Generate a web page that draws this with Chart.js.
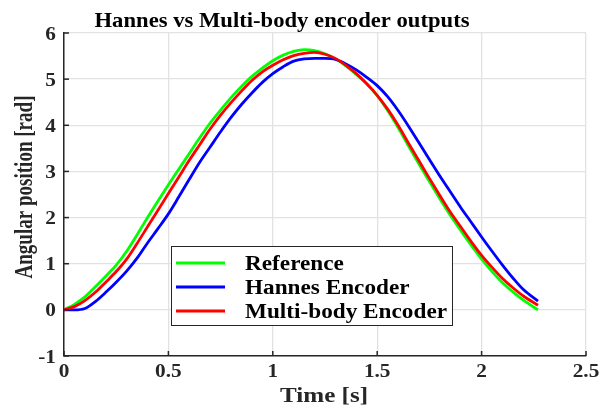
<!DOCTYPE html>
<html>
<head>
<meta charset="utf-8">
<script src="https://cdn.jsdelivr.net/npm/chart.js@4.4.1/dist/chart.umd.min.js"></script>
<style>
  html, body { margin: 0; padding: 0; background: #fff; }
  #wrap { width: 600px; height: 406px; }
</style>
</head>
<body>
<div id="wrap"><canvas id="chart" width="600" height="406"></canvas></div>
<script>
// values (time in s, angle in rad)
const refT = [0, 0.05, 0.1, 0.15, 0.2, 0.25, 0.3, 0.35, 0.4, 0.45, 0.5, 0.55, 0.6, 0.65, 0.7, 0.75, 0.8, 0.85, 0.9, 0.95, 1.0, 1.05, 1.1, 1.15, 1.2, 1.25, 1.3, 1.35, 1.4, 1.45, 1.5, 1.55, 1.6, 1.65, 1.7, 1.75, 1.8, 1.85, 1.9, 1.95, 2.0, 2.05, 2.1, 2.15, 2.2, 2.27];
const refY = [0, 0.12, 0.28, 0.5, 0.73, 0.97, 1.27, 1.63, 2.0, 2.36, 2.71, 3.05, 3.39, 3.73, 4.05, 4.33, 4.6, 4.84, 5.06, 5.24, 5.4, 5.52, 5.6, 5.64, 5.62, 5.55, 5.44, 5.29, 5.1, 4.9, 4.64, 4.32, 3.95, 3.55, 3.16, 2.78, 2.41, 2.05, 1.72, 1.4, 1.1, 0.83, 0.59, 0.39, 0.21, 0.0];

const hannesT = [0, 0.05, 0.1, 0.15, 0.2, 0.25, 0.3, 0.35, 0.4, 0.45, 0.5, 0.55, 0.6, 0.65, 0.7, 0.75, 0.8, 0.85, 0.9, 0.95, 1.0, 1.05, 1.1, 1.15, 1.2, 1.25, 1.3, 1.35, 1.4, 1.45, 1.5, 1.55, 1.6, 1.65, 1.7, 1.75, 1.8, 1.85, 1.9, 1.95, 2.0, 2.05, 2.1, 2.15, 2.2, 2.27];
const hannesY = [0, 0, 0.03, 0.18, 0.38, 0.6, 0.84, 1.12, 1.45, 1.76, 2.08, 2.45, 2.83, 3.2, 3.53, 3.86, 4.17, 4.45, 4.7, 4.93, 5.12, 5.27, 5.39, 5.44, 5.45, 5.45, 5.43, 5.33, 5.2, 5.04, 4.86, 4.62, 4.32, 3.98, 3.62, 3.26, 2.9, 2.56, 2.22, 1.9, 1.58, 1.27, 0.97, 0.69, 0.44, 0.19];

const multiT = [0, 0.05, 0.1, 0.15, 0.2, 0.25, 0.3, 0.35, 0.4, 0.45, 0.5, 0.55, 0.6, 0.65, 0.7, 0.75, 0.8, 0.85, 0.9, 0.95, 1.0, 1.05, 1.1, 1.15, 1.2, 1.25, 1.3, 1.35, 1.4, 1.45, 1.5, 1.55, 1.6, 1.65, 1.7, 1.75, 1.8, 1.85, 1.9, 1.95, 2.0, 2.05, 2.1, 2.15, 2.2, 2.27];
const multiY = [0, 0.07, 0.2, 0.38, 0.6, 0.83, 1.1, 1.44, 1.8, 2.16, 2.52, 2.88, 3.24, 3.58, 3.92, 4.22, 4.49, 4.74, 4.97, 5.16, 5.3, 5.42, 5.51, 5.56, 5.58, 5.54, 5.45, 5.3, 5.12, 4.9, 4.65, 4.35, 4.0, 3.61, 3.23, 2.85, 2.48, 2.12, 1.8, 1.48, 1.18, 0.92, 0.68, 0.48, 0.3, 0.1];

const seriesNames = ['Reference', 'Hannes Encoder', 'Multi-body Encoder'];
const seriesColors = ['#00ff00', '#0000ff', '#ff0000'];

const titleText = 'Hannes vs Multi-body encoder outputs';
const xTitle = 'Time [s]';
const yTitle = 'Angular position [rad]';

const serif = '"Liberation Serif", "Times New Roman", serif';
const ink = '#262626';

const pts = (ts, ys) => ts.map((t, i) => ({ x: t, y: ys[i] }));

// text squeezed/stretched to the size seen in the figure
function fitText(ctx, text, x, y, width, align, sy) {
    const w = ctx.measureText(text).width;
    const sx = width ? width / w : 1;
    ctx.save();
    ctx.translate(x, y);
    ctx.scale(sx, sy || 1);
    ctx.textAlign = align || 'center';
    ctx.fillText(text, 0, 0);
    ctx.restore();
}

// MATLAB-style extras: tick labels, titles, inward ticks, boxed legend
const decor = {
    id: 'decor',
    afterDraw(chart) {
        const { ctx, chartArea: a, scales: { x, y } } = chart;
        ctx.save();

        ctx.strokeStyle = ink;
        ctx.lineWidth = 1.5;
        x.ticks.forEach(t => {
            const px = x.getPixelForValue(t.value);
            ctx.beginPath(); ctx.moveTo(px, a.bottom); ctx.lineTo(px, a.bottom - 5); ctx.stroke();
        });
        y.ticks.forEach(t => {
            const py = y.getPixelForValue(t.value);
            ctx.beginPath(); ctx.moveTo(a.left, py); ctx.lineTo(a.left + 5, py); ctx.stroke();
        });

        ctx.textBaseline = 'alphabetic';
        ctx.fillStyle = ink;
        ctx.font = `bold 19px ${serif}`;
        x.ticks.forEach(t => {
            const px = x.getPixelForValue(t.value);
            const s = String(t.value);
            fitText(ctx, s, px, 377, ctx.measureText(s).width * 1.12, 'center');
        });
        y.ticks.forEach(t => {
            const py = y.getPixelForValue(t.value);
            const s = t.value < 0 ? '-' + Math.abs(t.value) : String(t.value);
            fitText(ctx, s, a.left - 8, py + 6.5, ctx.measureText(s).width * 1.12, 'right');
        });

        ctx.fillStyle = '#000';
        ctx.font = `bold 21px ${serif}`;
        fitText(ctx, titleText, 282, 27, 375);

        ctx.fillStyle = ink;
        ctx.font = `bold 20px ${serif}`;
        fitText(ctx, xTitle, 324, 402, 88);

        ctx.save();
        ctx.translate(32, 187);
        ctx.rotate(-Math.PI / 2);
        ctx.font = `bold 19px ${serif}`;
        fitText(ctx, yTitle, 0, 0, 183, 'center', 1.3);
        ctx.restore();

        // legend box
        const lx = 171, ly = 246, lw = 281, lh = 79;
        ctx.fillStyle = '#fff';
        ctx.fillRect(lx, ly, lw, lh);
        ctx.strokeStyle = ink;
        ctx.lineWidth = 1;
        ctx.strokeRect(lx + 0.5, ly + 0.5, lw, lh);
        ctx.font = `bold 20px ${serif}`;
        const sx = 202 / ctx.measureText(seriesNames[2]).width;
        seriesNames.forEach((name, i) => {
            const yy = 263 + i * 24;
            ctx.strokeStyle = seriesColors[i];
            ctx.lineWidth = 2.8;
            ctx.beginPath(); ctx.moveTo(176, yy); ctx.lineTo(225, yy); ctx.stroke();
            ctx.fillStyle = '#000';
            fitText(ctx, name, 245, yy + 7, ctx.measureText(name).width * sx, 'left');
        });
        ctx.restore();
    }
};

new Chart(document.getElementById('chart'), {
    type: 'line',
    data: {
        datasets: [
            { label: seriesNames[0], data: pts(refT, refY), borderColor: seriesColors[0], order: 3 },
            { label: seriesNames[1], data: pts(hannesT, hannesY), borderColor: seriesColors[1], order: 2 },
            { label: seriesNames[2], data: pts(multiT, multiY), borderColor: seriesColors[2], order: 1 }
        ]
    },
    options: {
        responsive: false,
        animation: false,
        elements: {
            point: { radius: 0 },
            line: { borderWidth: 2.8, cubicInterpolationMode: 'monotone', fill: false }
        },
        layout: { padding: { top: 33, right: 14, left: 0, bottom: 0 } },
        plugins: { legend: { display: false }, title: { display: false }, tooltip: { enabled: false } },
        scales: {
            x: {
                type: 'linear', min: 0, max: 2.5,
                afterFit: s => { s.height = 50; },
                ticks: { stepSize: 0.5, display: false },
                grid: { color: '#e2e2e2', lineWidth: 1.3, drawTicks: false },
                border: { display: true, color: ink, width: 1.5 }
            },
            y: {
                type: 'linear', min: -1, max: 6,
                afterFit: s => { s.width = 64; },
                ticks: { stepSize: 1, display: false },
                grid: { color: '#e2e2e2', lineWidth: 1.3, drawTicks: false },
                border: { display: true, color: ink, width: 1.5 }
            }
        }
    },
    plugins: [decor]
});
</script>
</body>
</html>
